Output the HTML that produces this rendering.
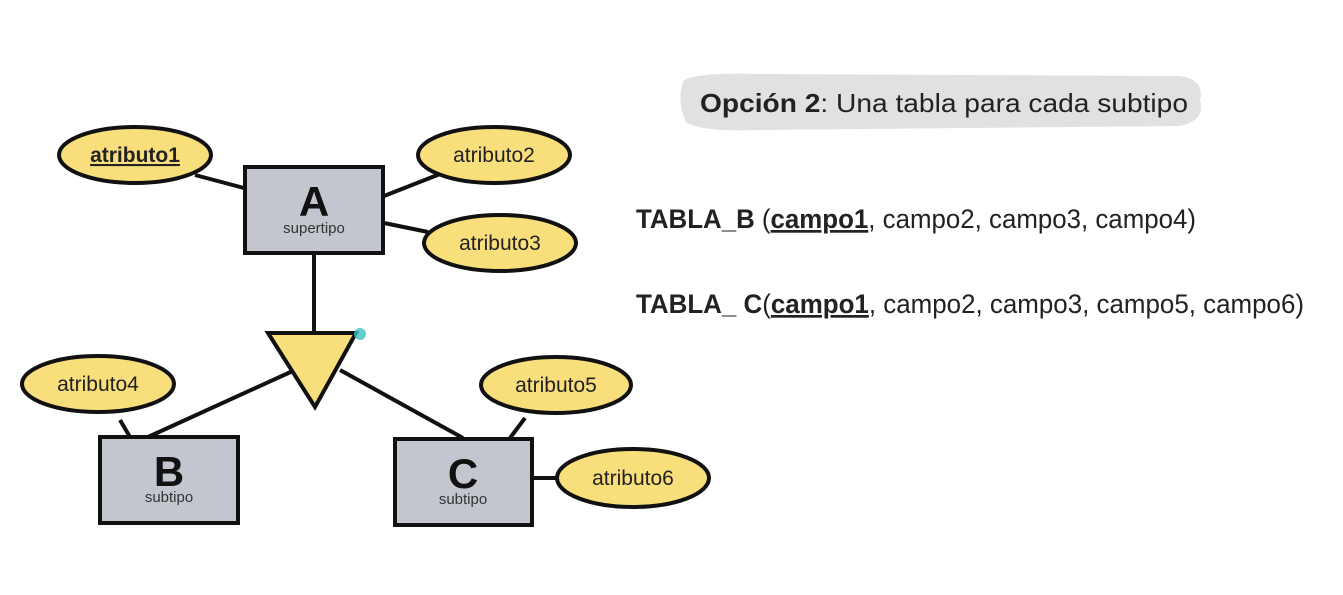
<!DOCTYPE html>
<html><head><meta charset="utf-8"><style>html,body{margin:0;padding:0;background:#fff}svg{display:block}</style></head>
<body>
<svg width="1343" height="595" viewBox="0 0 1343 595" xmlns="http://www.w3.org/2000/svg" font-family="Liberation Sans, sans-serif">
<rect width="1343" height="595" fill="#fff"/>
<path d="M684 80 Q700 72 760 74 L1180 76 Q1205 80 1200 100 Q1206 120 1180 126 L760 130 Q700 132 686 122 Q676 100 684 80Z" fill="#e1e1e1"/>
<text x="700" y="112" font-size="26" fill="#222" textLength="488" lengthAdjust="spacingAndGlyphs"><tspan font-weight="bold">Opción 2</tspan>: Una tabla para cada subtipo</text>
<text x="636" y="228" font-size="27" fill="#222" textLength="560" lengthAdjust="spacingAndGlyphs"><tspan font-weight="bold">TABLA_B</tspan> (<tspan font-weight="bold" text-decoration="underline">campo1</tspan>, campo2, campo3, campo4)</text>
<text x="636" y="313" font-size="27" fill="#222" textLength="668" lengthAdjust="spacingAndGlyphs"><tspan font-weight="bold">TABLA_ C</tspan>(<tspan font-weight="bold" text-decoration="underline">campo1</tspan>, campo2, campo3, campo5, campo6)</text>
<g stroke="#111" stroke-width="4" fill="none">
<line x1="195" y1="175" x2="244" y2="188"/>
<line x1="384" y1="196" x2="440" y2="174"/>
<line x1="384" y1="223" x2="428" y2="232"/>
<line x1="314" y1="253" x2="314" y2="333"/>
<line x1="148" y1="437" x2="295" y2="370"/>
<line x1="340" y1="370" x2="463" y2="438"/>
<line x1="120" y1="420" x2="130" y2="437"/>
<line x1="510" y1="438" x2="525" y2="418"/>
<line x1="533" y1="478" x2="558" y2="478"/>
</g>
<g stroke="#111" stroke-width="4" fill="#c3c6ce">
<rect x="245" y="167" width="138" height="86"/>
<rect x="100" y="437" width="138" height="86"/>
<rect x="395" y="439" width="137" height="86"/>
</g>
<polygon points="268,333 356,333 315,407" fill="#f8df7b" stroke="#111" stroke-width="4"/>
<circle cx="360" cy="334" r="6" fill="#3ac0c0" opacity="0.8"/>
<g fill="#111" font-weight="bold" font-size="42" text-anchor="middle">
<text x="314" y="216">A</text><text x="169" y="486">B</text><text x="463" y="488">C</text>
</g>
<g fill="#333" font-size="15" text-anchor="middle">
<text x="314" y="233">supertipo</text><text x="169" y="502">subtipo</text><text x="463" y="504">subtipo</text>
</g>
<g fill="#f8df7b" stroke="#111" stroke-width="4">
<ellipse cx="135" cy="155" rx="76" ry="28"/>
<ellipse cx="494" cy="155" rx="76" ry="28"/>
<ellipse cx="500" cy="243" rx="76" ry="28"/>
<ellipse cx="98" cy="384" rx="76" ry="28"/>
<ellipse cx="556" cy="385" rx="75" ry="28"/>
<ellipse cx="633" cy="478" rx="76" ry="29"/>
</g>
<g fill="#222" font-size="21" text-anchor="middle">
<text x="135" y="162" font-weight="bold" text-decoration="underline">atributo1</text>
<text x="494" y="162">atributo2</text>
<text x="500" y="250">atributo3</text>
<text x="98" y="391">atributo4</text>
<text x="556" y="392">atributo5</text>
<text x="633" y="485">atributo6</text>
</g>
</svg>
</body></html>
